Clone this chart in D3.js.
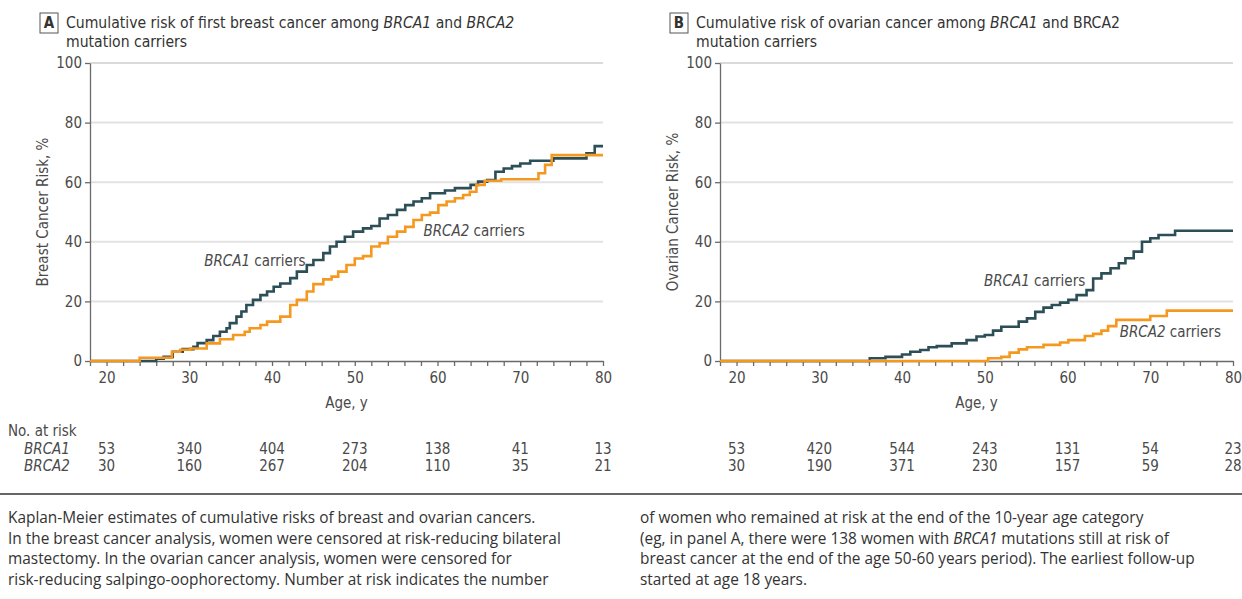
<!DOCTYPE html>
<html>
<head>
<meta charset="utf-8">
<script src="https://cdn.jsdelivr.net/npm/d3@7"></script>
<style>
  body { margin: 0; background: #fff; }
  svg { display: block; }
  .narrow { font-family: "Liberation Sans Narrow", "DejaVu Sans Condensed", sans-serif; fill: #4a4a4a; }
  .caption { font-family: "Open Sans", Lato, sans-serif; fill: #333; font-size: 15.4px; }
</style>
</head>
<body>
<svg width="1242" height="599"></svg>
<script>
// ticks
const ageTicks = [20, 30, 40, 50, 60, 70, 80];
const riskTicks = [0, 20, 40, 60, 80, 100];

// panel A - breast cancer (step points)
const breastBrca1Age  = [18, 26, 26.9, 28, 29.2, 30.5, 31, 32.1, 32.9, 33.7, 34.5, 34.9, 35.7, 36.3, 36.9, 37.7, 38.6, 39.4, 40.2, 41, 42.2, 43, 44.2, 45, 46.2, 47, 47.8, 48.8, 49.8, 51, 52, 53, 54, 55.1, 56.1, 57.1, 58.1, 59.1, 60.9, 62.1, 64, 64.9, 66, 67, 68, 69, 70, 71.2, 74, 78, 79, 80];
const breastBrca1Risk = [0, 0.8, 1.4, 3.1, 4.0, 4.8, 6, 7, 8.4, 9.8, 11, 12.7, 14.9, 16.6, 18.8, 20.5, 22.1, 23.3, 24.9, 26, 27.8, 30, 32.2, 33.9, 36.2, 38.4, 40, 41.7, 43.4, 44.5, 45.3, 47.8, 49, 50.7, 52.3, 53.5, 54.6, 56.3, 57.2, 58, 59.1, 60.2, 60.7, 63.5, 64.6, 65.4, 66.3, 67.2, 68, 69.7, 72.1, 72.1];

const breastBrca2Age  = [18, 24, 27.9, 28.9, 30.1, 32.1, 33.7, 35.3, 36.7, 37.3, 38.6, 39.4, 41, 42.2, 43, 44.2, 45, 46.2, 47.2, 48, 49, 50, 51, 52, 53, 54, 55.1, 56.1, 57.1, 58.1, 59.1, 60.1, 61.1, 62.1, 63.1, 63.9, 64.7, 65.7, 67.7, 72.2, 73, 73.8, 80];
const breastBrca2Risk = [0, 1.1, 3.1, 3.8, 4.2, 5.9, 7.3, 8.7, 9.8, 11, 12.1, 13.2, 14.9, 18.8, 20.5, 23.3, 25.8, 27.4, 28.3, 30, 32.2, 34.4, 35.2, 38.4, 39.5, 41.7, 43.4, 45, 47.3, 49, 49.8, 52.3, 53.5, 54.6, 55.7, 56.8, 59.1, 60.5, 61, 63, 65.8, 69.1, 69.1];

// panel B - ovarian cancer
const ovarianBrca1Age  = [18, 36.1, 38, 40, 41, 42.2, 43.2, 44.2, 46, 47.8, 49, 50, 51, 52, 54.1, 55.1, 56.1, 57.1, 58.1, 59.1, 60.1, 61.1, 62.3, 63.1, 64.1, 65.2, 66.2, 67, 68, 69, 70, 71, 73, 80];
const ovarianBrca1Risk = [0, 0.9, 1.4, 2.2, 3.1, 3.7, 4.6, 5.0, 5.9, 7, 8.2, 8.7, 10.2, 11.5, 13.2, 14.3, 16.5, 17.9, 18.8, 19.6, 20.5, 22.1, 23.8, 27.7, 29.4, 31.1, 32.8, 34.5, 36.7, 40, 41.2, 42.3, 43.7, 43.7];

const ovarianBrca2Age  = [18, 50.4, 52, 53, 54.1, 55.1, 57.1, 59.1, 60.1, 62.1, 63.1, 64.1, 64.9, 65.9, 70, 72, 80];
const ovarianBrca2Risk = [0, 0.9, 1.4, 2.8, 3.9, 4.6, 5.4, 6.2, 7, 8.4, 9.1, 10.2, 11.7, 13.8, 15.1, 16.9, 16.9];

// number at risk
const breastAtRisk1  = [53, 340, 404, 273, 138, 41, 13];
const breastAtRisk2  = [30, 160, 267, 204, 110, 35, 21];
const ovarianAtRisk1 = [53, 420, 544, 243, 131, 54, 23];
const ovarianAtRisk2 = [30, 190, 371, 230, 157, 59, 28];

const dark = "#2c4e57";
const orange = "#f5981f";

const svg = d3.select("svg");

function zip(a, b) { return a.map((v, i) => [v, b[i]]); }

function drawPanel(p) {
  const x = d3.scaleLinear().domain([18, 80]).range([p.left, p.left + 513]);
  const y = d3.scaleLinear().domain([0, 100]).range([361, 63]);
  const g = svg.append("g");

  // title
  g.append("rect")
    .attr("x", p.left - 50).attr("y", 13).attr("width", 18).attr("height", 20)
    .attr("fill", "none").attr("stroke", "#555").attr("stroke-width", 1);
  g.append("text").attr("class", "narrow")
    .attr("x", p.left - 41).attr("y", 28).attr("text-anchor", "middle")
    .style("font-size", "15px").style("font-weight", "bold").style("fill", "#333")
    .text(p.letter);
  const t1 = g.append("text").attr("class", "narrow")
    .attr("x", p.left - 24).attr("y", 28).style("font-size", "15.6px").style("fill", "#333");
  p.title.forEach(s => t1.append("tspan").style("font-style", s[1] ? "italic" : "normal").text(s[0]));
  g.append("text").attr("class", "narrow")
    .attr("x", p.left - 24).attr("y", 47).style("font-size", "15.6px").style("fill", "#333")
    .text("mutation carriers");

  // grid
  g.selectAll(".grid").data(riskTicks.filter(d => d > 0)).join("line")
    .attr("x1", x(18)).attr("x2", x(80))
    .attr("y1", d => y(d)).attr("y2", d => y(d))
    .attr("stroke", d => d === 100 ? "#b5b5b5" : "#e2e2e2")
    .attr("stroke-width", d => d === 100 ? 1 : 2);

  // axes
  const yAxis = g.append("g").attr("transform", `translate(${x(18)},0)`)
    .call(d3.axisLeft(y).tickValues(riskTicks).tickSize(5).tickSizeOuter(0).tickPadding(3));
  const xAxis = g.append("g").attr("transform", `translate(0,${y(0)})`)
    .call(d3.axisBottom(x).tickValues(d3.range(18, 81, 2)).tickSize(5).tickSizeOuter(0).tickPadding(6)
      .tickFormat(d => ageTicks.includes(d) ? d : ""));
  [yAxis, xAxis].forEach(a => {
    a.selectAll("path, line").attr("stroke", "#6a6a6a").attr("stroke-width", 1.3);
    a.selectAll("text").attr("class", "narrow").style("font-size", "15px").attr("fill", null);
  });

  g.append("text").attr("class", "narrow")
    .attr("transform", `translate(${p.left - 42},${y(50)}) rotate(-90)`)
    .attr("text-anchor", "middle").style("font-size", "15px")
    .text(p.yLabel);
  g.append("text").attr("class", "narrow")
    .attr("x", x(49)).attr("y", 408).attr("text-anchor", "middle").style("font-size", "15px")
    .text("Age, y");

  // curves
  const line = d3.line().curve(d3.curveStepAfter).x(d => x(d[0])).y(d => y(d[1]));
  p.series.forEach(s => {
    g.append("path").datum(s.data).attr("d", line)
      .attr("fill", "none").attr("stroke", s.color).attr("stroke-width", 2.6);
  });

  // curve labels
  p.labels.forEach(l => {
    const t = g.append("text").attr("class", "narrow")
      .attr("x", x(l.age)).attr("y", y(l.risk)).style("font-size", "15px");
    t.append("tspan").style("font-style", "italic").text(l.name);
    t.append("tspan").text(" carriers");
  });

  // number at risk
  [p.risk1, p.risk2].forEach((row, i) => {
    g.selectAll(null).data(row).join("text").attr("class", "narrow")
      .attr("x", (d, j) => x(ageTicks[j])).attr("y", 454 + i * 17)
      .attr("text-anchor", "middle").style("font-size", "15px")
      .text(d => d);
  });
}

drawPanel({
  left: 90, letter: "A",
  title: [["Cumulative risk of first breast cancer among ", false], ["BRCA1", true], [" and ", false], ["BRCA2", true]],
  yLabel: "Breast Cancer Risk, %",
  series: [
    { data: zip(breastBrca1Age, breastBrca1Risk), color: dark },
    { data: zip(breastBrca2Age, breastBrca2Risk), color: orange }
  ],
  labels: [{ name: "BRCA1", age: 31.8, risk: 32 }, { name: "BRCA2", age: 58.3, risk: 41.8 }],
  risk1: breastAtRisk1, risk2: breastAtRisk2
});

drawPanel({
  left: 720, letter: "B",
  title: [["Cumulative risk of ovarian cancer among ", false], ["BRCA1", true], [" and BRCA2", false]],
  yLabel: "Ovarian Cancer Risk, %",
  series: [
    { data: zip(ovarianBrca1Age, ovarianBrca1Risk), color: dark },
    { data: zip(ovarianBrca2Age, ovarianBrca2Risk), color: orange }
  ],
  labels: [{ name: "BRCA1", age: 49.9, risk: 25.3 }, { name: "BRCA2", age: 66.3, risk: 8 }],
  risk1: ovarianAtRisk1, risk2: ovarianAtRisk2
});

// at-risk row titles
svg.append("text").attr("class", "narrow").attr("x", 8).attr("y", 436).style("font-size", "15px").text("No. at risk");
["BRCA1", "BRCA2"].forEach((s, i) => {
  svg.append("text").attr("class", "narrow").attr("x", 24).attr("y", 454 + i * 17)
    .style("font-size", "15px").style("font-style", "italic").text(s);
});

// divider
svg.append("line").attr("x1", 0).attr("x2", 1242).attr("y1", 494).attr("y2", 494)
  .attr("stroke", "#666").attr("stroke-width", 2);

// caption
const leftLines = [
  [["Kaplan-Meier estimates of cumulative risks of breast and ovarian cancers.", false]],
  [["In the breast cancer analysis, women were censored at risk-reducing bilateral", false]],
  [["mastectomy. In the ovarian cancer analysis, women were censored for", false]],
  [["risk-reducing salpingo-oophorectomy. Number at risk indicates the number", false]]
];
const rightLines = [
  [["of women who remained at risk at the end of the 10-year age category", false]],
  [["(eg, in panel A, there were 138 women with ", false], ["BRCA1", true], [" mutations still at risk of", false]],
  [["breast cancer at the end of the age 50-60 years period). The earliest follow-up", false]],
  [["started at age 18 years.", false]]
];
[[leftLines, 8], [rightLines, 640]].forEach(([lines, x0]) => {
  lines.forEach((parts, i) => {
    const t = svg.append("text").attr("class", "caption").attr("x", x0).attr("y", 523 + i * 20.5);
    parts.forEach(p => t.append("tspan").style("font-style", p[1] ? "italic" : "normal").text(p[0]));
  });
});
</script>
</body>
</html>
